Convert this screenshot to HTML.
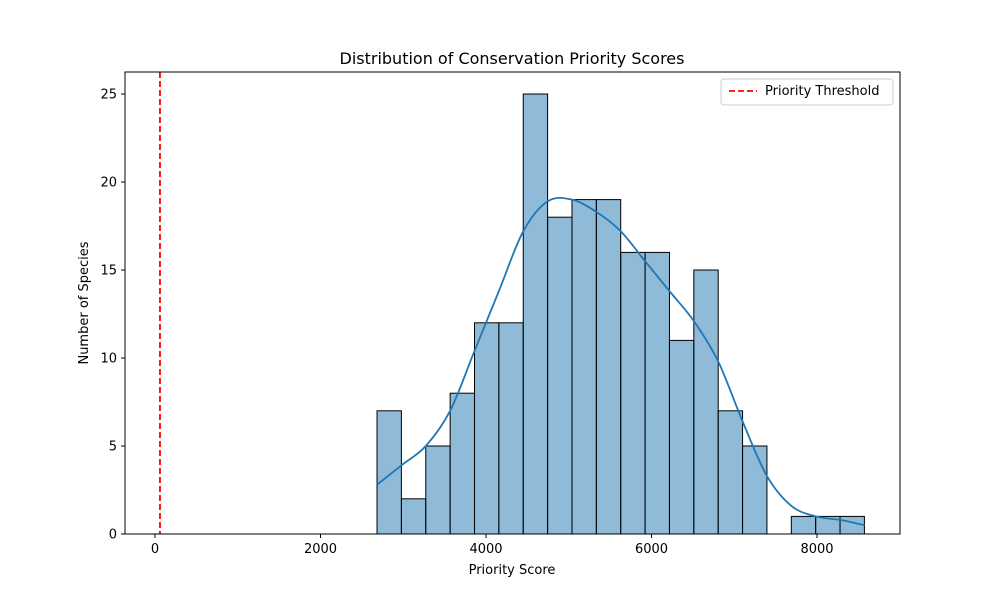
<!DOCTYPE html>
<html><head><meta charset="utf-8"><style>
body{margin:0;background:#fff;font-family:"Liberation Sans","DejaVu Sans",sans-serif;}
</style></head><body>
<svg id="chart" width="1000" height="600" style="font-family:'DejaVu Sans','Liberation Sans',sans-serif">
<rect width="1000" height="600" fill="#fff"/>
<g id="bars"></g><g id="kde"></g><g id="ticks"></g>
<rect x="125" y="72" width="775" height="462" fill="none" stroke="#000" stroke-width="1"/>
<text x="512" y="64" text-anchor="middle" font-size="16">Distribution of Conservation Priority Scores</text>
<text x="512" y="574" text-anchor="middle" font-size="13">Priority Score</text>
<text transform="translate(88,303) rotate(-90)" text-anchor="middle" font-size="13">Number of Species</text>
<g>
<rect x="721" y="79" width="172" height="26" fill="#fff" stroke="#ccc" rx="3"/>
<line x1="729" y1="91" x2="757" y2="91" stroke="red" stroke-width="1.8" stroke-dasharray="6,3"/>
<text x="765" y="95" font-size="13">Priority Threshold</text>
</g>
</svg>
<script>
const binStart = 2683, binWidth = 294.5;
const counts = [7,2,5,8,12,12,25,18,19,19,16,16,11,15,7,5,0,1,1,1];
const kdeY = [2.8,3.9,5.0,7.0,10.4,13.8,17.2,18.9,19.0,18.3,17.2,15.5,13.8,12.1,9.8,6.4,3.3,1.6,1.0,0.8,0.5];
const xTicks = [0,2000,4000,6000,8000];
const yTicks = [0,5,10,15,20,25];
const threshold = 60;
const sx = v => 155 + v*0.08275;
const sy = v => 534 - v*17.6;
const NS = "http://www.w3.org/2000/svg";
const bars = document.getElementById('bars');
counts.forEach((c,i)=>{
  if(c<=0) return;
  const r=document.createElementNS(NS,'rect');
  const x0=sx(binStart+i*binWidth), x1=sx(binStart+(i+1)*binWidth);
  r.setAttribute('x',x0);r.setAttribute('y',sy(c));
  r.setAttribute('width',x1-x0);r.setAttribute('height',sy(0)-sy(c));
  r.setAttribute('fill','rgba(31,119,180,0.5)');r.setAttribute('stroke','#000');r.setAttribute('stroke-width','1');
  
  
  bars.appendChild(r);
});
const kde=document.getElementById('kde');
const pts=kdeY.map((v,i)=>[sx(binStart+i*binWidth*counts.length/(kdeY.length-1)),sy(v)]);
let d='M'+pts[0][0]+','+pts[0][1];
for(let i=0;i<pts.length-1;i++){
  const p0=pts[Math.max(0,i-1)],p1=pts[i],p2=pts[i+1],p3=pts[Math.min(pts.length-1,i+2)];
  const c1=[p1[0]+(p2[0]-p0[0])/6,p1[1]+(p2[1]-p0[1])/6];
  const c2=[p2[0]-(p3[0]-p1[0])/6,p2[1]-(p3[1]-p1[1])/6];
  d+=' C'+c1[0]+','+c1[1]+' '+c2[0]+','+c2[1]+' '+p2[0]+','+p2[1];
}
const p=document.createElementNS(NS,'path');
p.setAttribute('d',d);p.setAttribute('fill','none');p.setAttribute('stroke','#1f77b4');p.setAttribute('stroke-width','1.8');p.setAttribute('stroke-linejoin','round');


kde.appendChild(p);
const th=document.createElementNS(NS,'line');
th.setAttribute('x1',sx(threshold));th.setAttribute('x2',sx(threshold));th.setAttribute('y1',72);th.setAttribute('y2',534);
th.setAttribute('stroke','red');th.setAttribute('stroke-width','1.8');th.setAttribute('stroke-dasharray','6,3');


kde.appendChild(th);
const tg=document.getElementById('ticks');
xTicks.forEach(t=>{
  const l=document.createElementNS(NS,'line');l.setAttribute('x1',sx(t));l.setAttribute('x2',sx(t));l.setAttribute('y1',534);l.setAttribute('y2',538);l.setAttribute('stroke','#000');tg.appendChild(l);
  const tx=document.createElementNS(NS,'text');tx.setAttribute('x',sx(t));tx.setAttribute('y',553);tx.setAttribute('text-anchor','middle');tx.setAttribute('font-size','13');tx.textContent=t;
  
  
  tg.appendChild(tx);
});
yTicks.forEach(t=>{
  const l=document.createElementNS(NS,'line');l.setAttribute('x1',121);l.setAttribute('x2',125);l.setAttribute('y1',sy(t));l.setAttribute('y2',sy(t));l.setAttribute('stroke','#000');tg.appendChild(l);
  const tx=document.createElementNS(NS,'text');tx.setAttribute('x',117);tx.setAttribute('y',sy(t)+4.5);tx.setAttribute('text-anchor','end');tx.setAttribute('font-size','13');tx.textContent=t;
  
  
  tg.appendChild(tx);
});
</script>
</body></html>
